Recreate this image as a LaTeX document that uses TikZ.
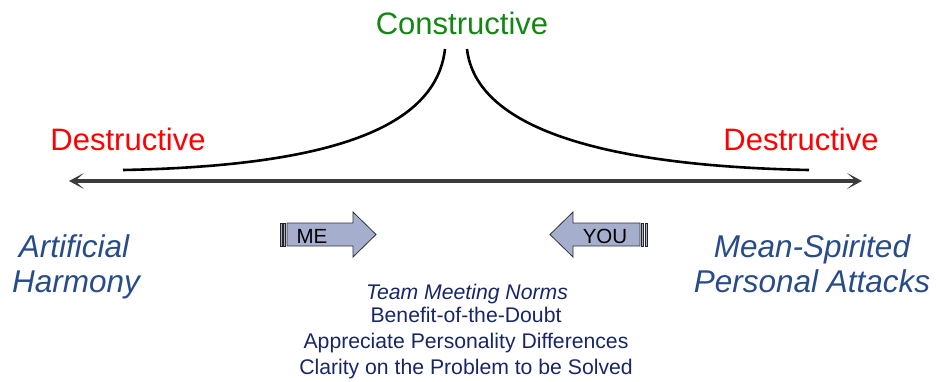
\documentclass[tikz,border=0pt]{standalone}
\usepackage{fontspec}
\setmainfont{Liberation Sans}
\usepackage{tikz}
\usetikzlibrary{arrows.meta, positioning}
\definecolor{constructgreen}{RGB}{18, 135, 18}
\definecolor{destructred}{RGB}{255, 0, 0}
\definecolor{extremeblue}{RGB}{40, 76, 138}
\definecolor{normnavy}{RGB}{24, 38, 104}
\definecolor{axisgray}{RGB}{60, 60, 60}
\definecolor{arrowfill}{RGB}{165, 175, 205}

\begin{document}
\begin{tikzpicture}[x=1pt, y=-1pt,
    bigword/.style={font=\fontsize{31}{36}\selectfont, anchor=base},
    extreme/.style={font=\fontsize{31.5}{35}\selectfont\itshape, text=extremeblue, anchor=base},
    normline/.style={font=\fontsize{21.2}{24}\selectfont, text=normnavy, anchor=base},
    scaleline/.style={draw=axisgray, line width=3.8pt,
        arrows={Stealth[length=15pt, width=16pt, inset=9pt]-Stealth[length=15pt, width=16pt, inset=9pt]}},
    blockarrow/.style={fill=arrowfill, draw=black!80, line width=0.8pt, line join=miter},
    stripe/.style={fill=arrowfill, draw=black!85, line width=0.8pt}]
    \useasboundingbox (0,0) rectangle (938,381);

    % Labels above the scale
    \node[bigword, constructgreen] (constructive) at (462, 34) {Constructive};
    \node[bigword, destructred] (destleft) at (128, 150) {Destructive};
    \node[bigword, destructred] (destright) at (801, 150) {Destructive};

    % The two branches of the cusp
    \coordinate (cuspleft) at (445, 49);
    \coordinate (cuspright) at (467, 49);
    \coordinate (footleft) at (123, 170);
    \coordinate (footright) at (809, 170);
    \draw[line width=2.6pt] (footleft) .. controls (330, 166) and (436, 128) .. (cuspleft);
    \draw[line width=2.6pt] (footright) .. controls (602, 166) and (476, 128) .. (cuspright);

    % Double-headed scale
    \coordinate (scaleleft) at (69, 181);
    \coordinate (scaleright) at (862, 181);
    \path[scaleline] (scaleleft) -- (scaleright);

    % The two extremes
    \node[extreme] (artificial) at (74, 257) {Artificial};
    \node[extreme] (harmony) at (76, 292) {Harmony};
    \node[extreme] (meanspirited) at (812, 257) {Mean-Spirited};
    \node[extreme] (attacks) at (812, 292) {Personal Attacks};

    % Striped block arrows pointing inwards
    \draw[blockarrow] (287, 223) -- (353, 223) -- (353, 212) -- (376, 234.5)
        -- (353, 257) -- (353, 246) -- (287, 246) -- cycle;
    \draw[stripe] (280, 223) rectangle (282, 246);
    \draw[stripe] (283.5, 223) rectangle (285.5, 246);
    \node[font=\fontsize{20.5}{24}\selectfont, anchor=base] (me) at (312, 243) {ME};

    \draw[blockarrow] (640, 223) -- (573, 223) -- (573, 212) -- (550, 234.5)
        -- (573, 257) -- (573, 246) -- (640, 246) -- cycle;
    \draw[stripe] (641.5, 223) rectangle (643.5, 246);
    \draw[stripe] (645, 223) rectangle (647, 246);
    \node[font=\fontsize{20.5}{24}\selectfont, anchor=base] (you) at (605, 243) {YOU};

    % Norms
    \node[normline, font=\fontsize{21.2}{24}\selectfont\itshape] (norms) at (467, 299) {Team Meeting Norms};
    \node[normline] (benefit) at (466, 322) {Benefit-of-the-Doubt};
    \node[normline] (appreciate) at (466, 348) {Appreciate Personality Differences};
    \node[normline] (clarity) at (466, 374) {Clarity on the Problem to be Solved};
\end{tikzpicture}
\end{document}
